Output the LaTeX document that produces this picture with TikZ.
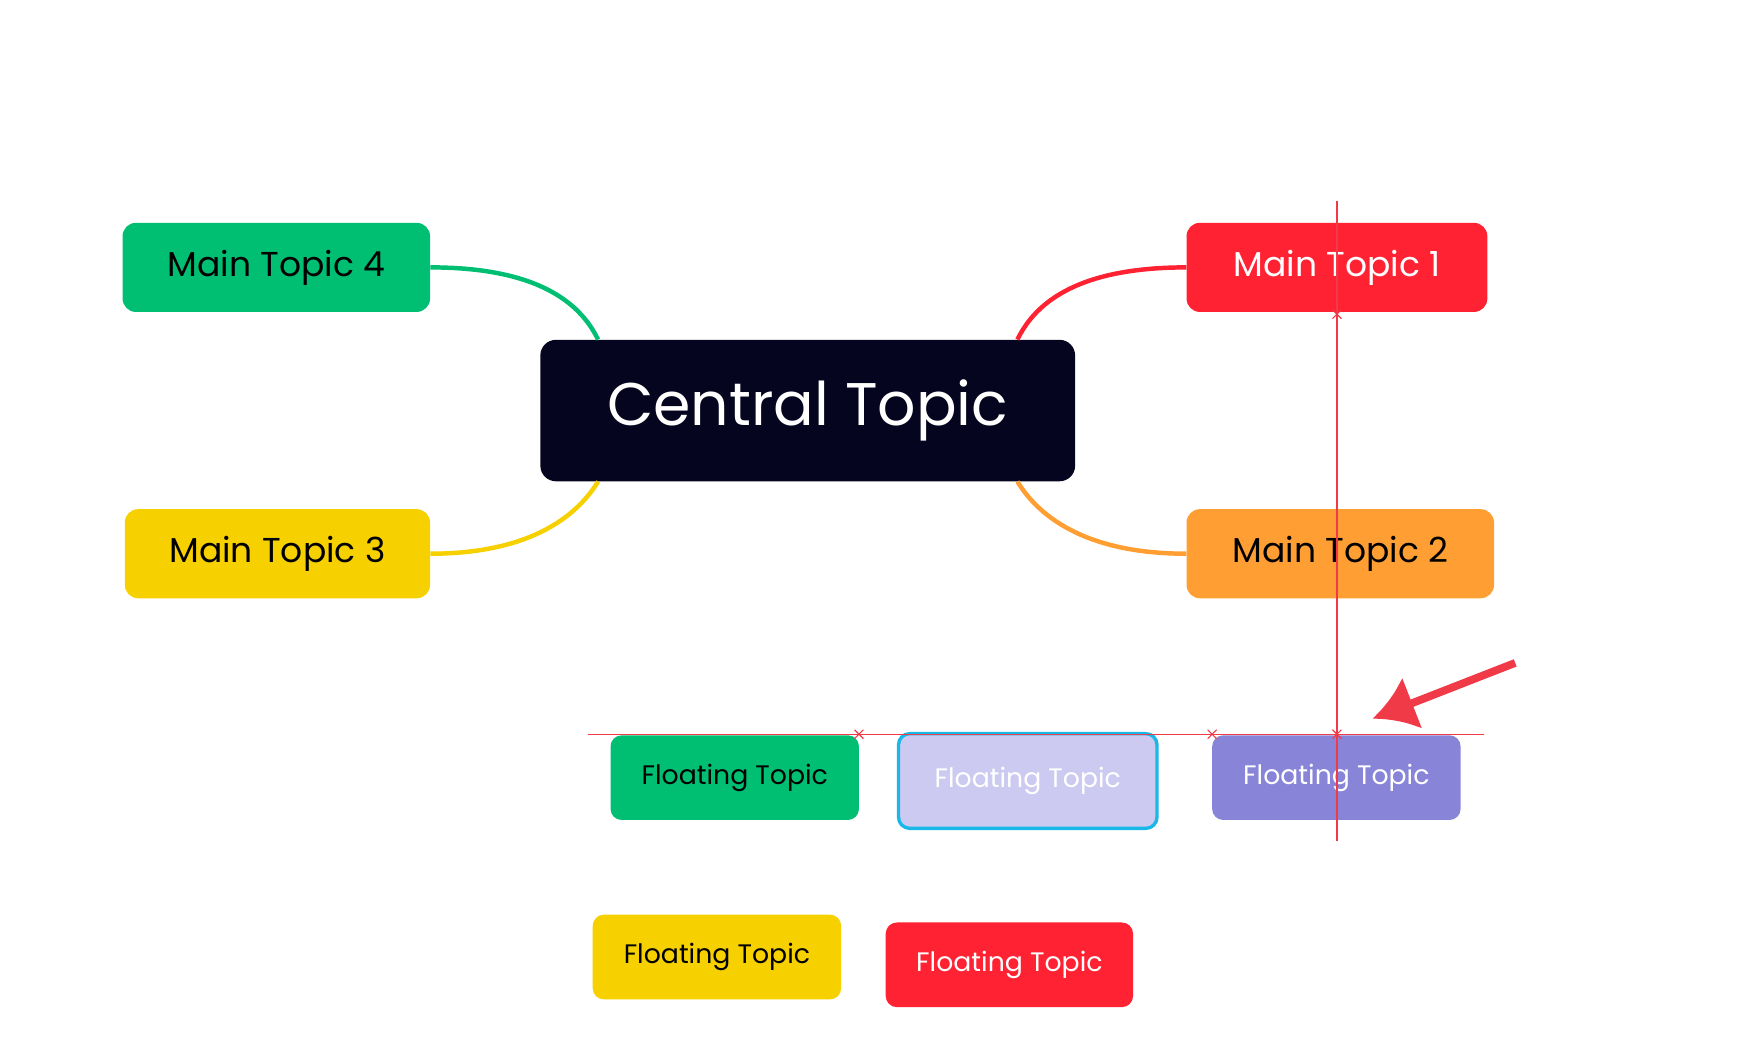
\documentclass[tikz,border=0pt]{standalone}
\usepackage{fontspec}
\setmainfont{Poppins}
\usetikzlibrary{positioning,calc,arrows.meta}
\definecolor{cgreen}{HTML}{00BF73}
\definecolor{cyellow}{HTML}{F7D000}
\definecolor{cred}{HTML}{FF2233}
\definecolor{corange}{HTML}{FF9F33}
\definecolor{cdark}{HTML}{05051F}
\definecolor{clav}{HTML}{CCCAF0}
\definecolor{cpurple}{HTML}{8884D8}
\definecolor{ccyan}{HTML}{1AB8E8}
\definecolor{cguide}{HTML}{F03A47}
\begin{document}
\begin{tikzpicture}
  [x=1pt, y=-1pt,
   main/.style={rounded corners=12pt, minimum width=276pt, minimum height=80pt,
     font=\fontsize{31}{34}\selectfont},
   float/.style={rounded corners=10pt, minimum width=223pt, minimum height=76pt,
     font=\fontsize{24}{27}\selectfont},
   branch/.style={line width=4pt}]
   \useasboundingbox (0,0) rectangle (1560,936);
   \node[fill=cdark, text=white, rounded corners=14pt, minimum width=480pt,
     minimum height=127pt, font=\fontsize{54}{58}\selectfont] (central) at (725,368.5) {Central Topic};
   \node[main, fill=cgreen] (mt4) at (248,240) {Main Topic 4};
   \node[main, fill=cyellow, minimum width=274pt] (mt3) at (249,497) {Main Topic 3};
   \node[main, fill=cred, text=white, minimum width=270pt] (mt1) at (1200,240) {Main Topic 1};
   \node[main, fill=corange] (mt2) at (1203,497) {Main Topic 2};
   % branches
   \draw[branch, cgreen] (mt4.east) .. controls (480,240) and (520,270) .. ($(central.north west)+(52,0)$);
   \draw[branch, cyellow] (mt3.east) .. controls (480,497) and (520,460) .. ($(central.south west)+(52,0)$);
   \draw[branch, cred] (mt1.west) .. controls (970,240) and (930,270) .. ($(central.north east)+(-52,0)$);
   \draw[branch, corange] (mt2.west) .. controls (970,497) and (930,460) .. ($(central.south east)+(-52,0)$);
   % floating topics
   \node[float, fill=cgreen] (ft1) at (659.5,698) {Floating Topic};
   \node[float, fill=clav, text=white, draw=ccyan, line width=3pt, minimum width=232pt,
     minimum height=85pt, inner sep=0pt] (ft2) at (922.5,701) {Floating Topic};
   \node[float, fill=cpurple, text=white] (ft3) at (1199.5,698) {Floating Topic};
   \node[float, fill=cyellow] (ft4) at (643.5,859) {Floating Topic};
   \node[float, fill=cred, text=white, minimum width=222pt] (ft5) at (906,866) {Floating Topic};
   % guides
   \coordinate (gtop) at (1200,180);
   \coordinate (gbot) at (1200,755);
   \coordinate (gleft) at (528,659);
   \coordinate (gright) at (1332,659);
   \draw[cguide, line width=1.2pt] (gtop) -- (gbot);
   \draw[cguide, line width=1.2pt] (gleft) -- (gright);
   \foreach \px/\py in {771/659, 1088/659, 1200/659, 1200/282}
     \draw[cguide, line width=1pt] (\px-4,\py-4) -- (\px+4,\py+4) (\px-4,\py+4) -- (\px+4,\py-4);
   % pointer
   \coordinate (ptail) at (1360,595);
   \coordinate (phead) at (1232,645);
   \draw[cguide, line width=7pt, -{Latex[length=38pt,width=50pt]}] (ptail) -- (phead);
\end{tikzpicture}
\end{document}
